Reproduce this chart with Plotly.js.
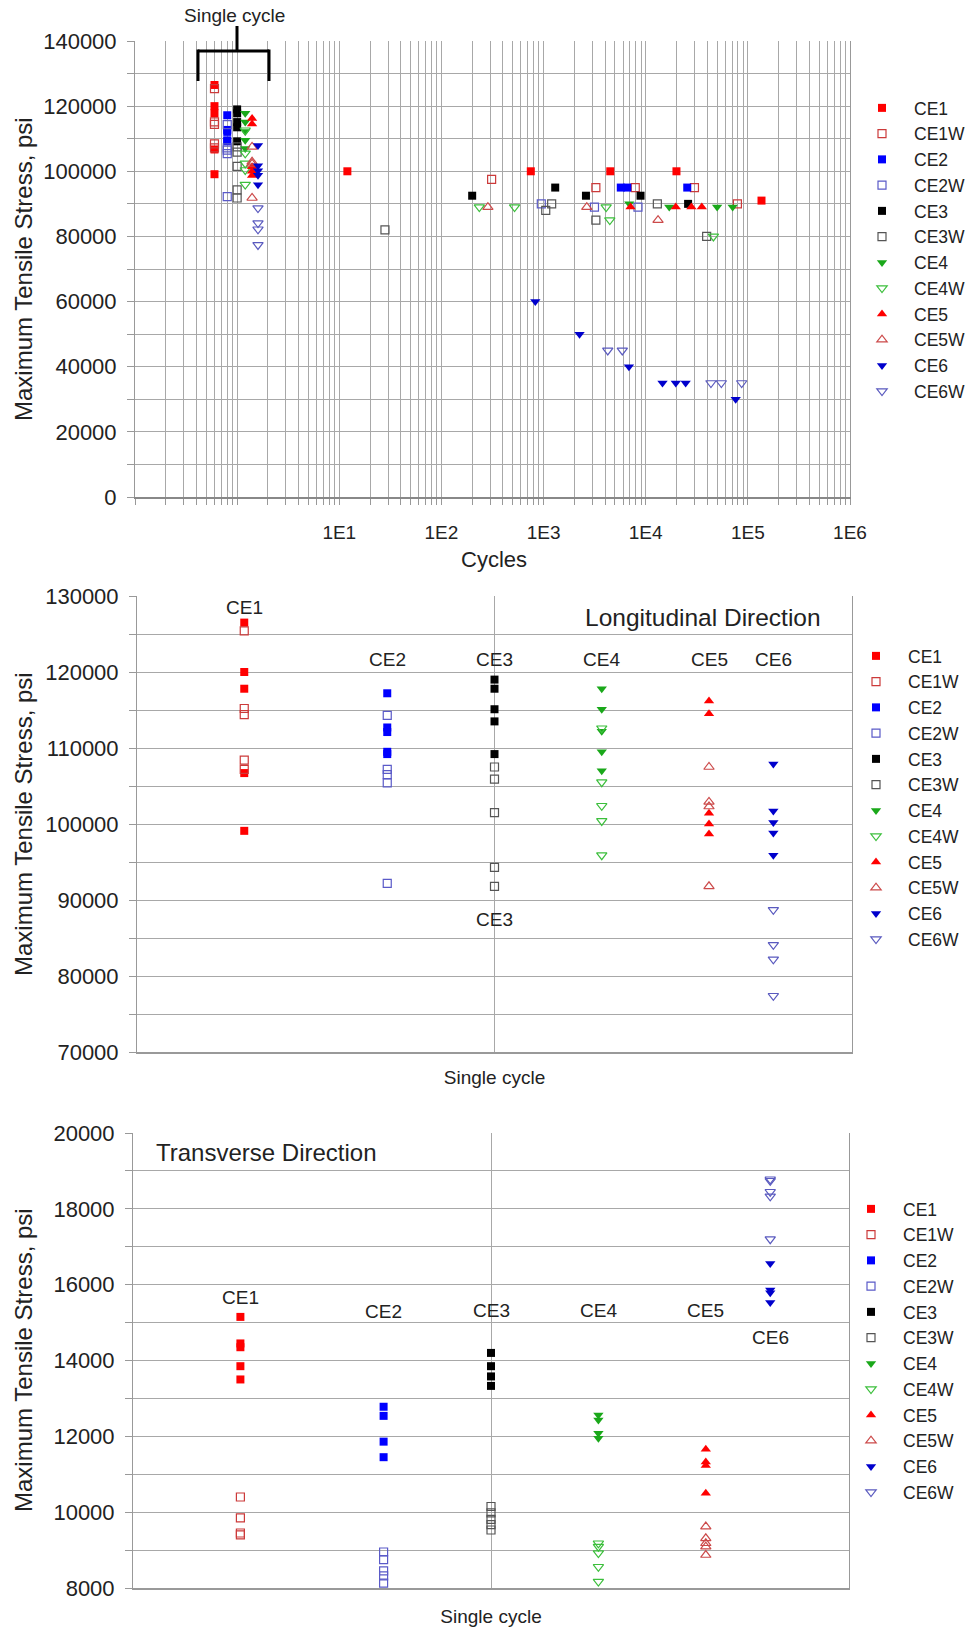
<!DOCTYPE html>
<html>
<head>
<meta charset="utf-8">
<script src="https://cdn.plot.ly/plotly-3.0.1.min.js"></script>
<style>html,body{margin:0;padding:0;background:#fff;}#chart{width:974px;height:1629px;}</style>
</head>
<body>
<div id="chart"></div>
<script>
// ---------------- DATA ----------------
const seriesNames = ['CE1','CE1W','CE2','CE2W','CE3','CE3W','CE4','CE4W','CE5','CE5W','CE6','CE6W'];

// Single-cycle, longitudinal direction (psi)
const longitudinalStress = [
  [126500, 120000, 117800, 106700, 99100],
  [125400, 115200, 114400, 108400, 107200],
  [117200, 112700, 112100, 109500, 109200],
  [114300, 107200, 106500, 105400, 92200],
  [119000, 117800, 115100, 113500, 109200],
  [107500, 105900, 101500, 94300, 91800],
  [117800, 115100, 112200, 109500, 107000],
  [112600, 105500, 102400, 100400, 95900],
  [116200, 114500, 101400, 100000, 98700],
  [107500, 102900, 102300, 91800],
  [107900, 101700, 100200, 98800, 95900],
  [88700, 84100, 82200, 77400]
];

// Single-cycle, transverse direction (psi)
const transverseStress = [
  [15150, 14450, 14350, 13850, 13500],
  [10400, 9850, 9450, 9400],
  [12780, 12540, 11860, 11450],
  [8950, 8750, 8450, 8320, 8130],
  [14200, 13850, 13580, 13330],
  [10150, 9980, 9810, 9670, 9530],
  [12560, 12430, 12080, 11950],
  [9180, 9090, 8920, 8560, 8170],
  [11660, 11320, 11230, 10500],
  [9620, 9310, 9180, 9090, 8870],
  [16560, 15860, 15790, 15530],
  [18780, 18740, 18450, 18330, 17200]
];

// Fatigue tests: cycles to failure and max stress (psi)
const fatigueCycles = [
  [12, 750, 4500, 20000, 136000],
  [310, 3250, 7900, 30000, 79000],
  [5700, 6600, 25500],
  [950, 3150, 8400],
  [200, 1300, 2600, 8900, 26000],
  [28, 1050, 1200, 3250, 13000, 39500],
  [6900, 17000, 50000, 71000],
  [235, 520, 4100, 4450, 46000],
  [7100, 19700, 28000, 35400],
  [285, 2650, 13200],
  [830, 2250, 6850, 14600, 19700, 24600, 76000],
  [4250, 5900, 43500, 55000, 87000]
];
const fatigueStress = [
  [100000, 100000, 100000, 100000, 91000],
  [97500, 95000, 95000, 95000, 90000],
  [95000, 95000, 95000],
  [90000, 89000, 89000],
  [92500, 95000, 92500, 92500, 90000],
  [82000, 88000, 90000, 85000, 90000, 80000],
  [90000, 89000, 89000, 89000],
  [89000, 89000, 89000, 85000, 80000],
  [89000, 89000, 89000, 89000],
  [89000, 89000, 85000],
  [60000, 50000, 40000, 35000, 35000, 35000, 30000],
  [45000, 45000, 35000, 35000, 35000]
];

// Where the single-cycle points are drawn (top chart, in "cycles") and category positions (lower charts)
const singleCycleX = [0.6, 0.6, 0.8, 0.8, 1.0, 1.0, 1.2, 1.2, 1.4, 1.4, 1.6, 1.6];
const groupX = [0.15, 0.15, 0.35, 0.35, 0.5, 0.5, 0.65, 0.65, 0.8, 0.8, 0.89, 0.89];

const groupLabels = ['CE1','CE2','CE3','CE4','CE5','CE6'];
const decadeLabels = ['1E1','1E2','1E3','1E4','1E5','1E6'];

// ---------------- STYLE ----------------
const colors = ['#ff0000','#cc3a3a','#0000ff','#5a5ac8','#000000','#555555','#1aa81a','#3cbf3c','#ff0000','#cc4a4a','#0000cc','#5a5abf'];
const symbols = ['square','square-open','square','square-open','square','square-open',
                 'triangle-down','triangle-down-open','triangle-up','triangle-up-open',
                 'triangle-down','triangle-down-open'];

const FONT = 'Liberation Sans, Arial, sans-serif';
const TXT = '#222222';
const GRID = '#a8a8a8';
const W = 974, H = 1629;
const px = x => x / W;
const py = y => 1 - y / H;

function marker(i) {
  const open = symbols[i].indexOf('open') >= 0;
  const tri = symbols[i].indexOf('triangle') >= 0;
  return {symbol: symbols[i], color: colors[i], size: tri ? 9 : 8,
          line: {color: colors[i], width: open ? 1.2 : 0}};
}

const traces = [];
seriesNames.forEach((name, i) => {
  const n1 = longitudinalStress[i].length;
  traces.push({
    type: 'scatter', mode: 'markers', name: name, legend: 'legend',
    x: Array(n1).fill(singleCycleX[i]).concat(fatigueCycles[i]),
    y: longitudinalStress[i].concat(fatigueStress[i]),
    xaxis: 'x', yaxis: 'y', marker: marker(i)
  });
});
seriesNames.forEach((name, i) => {
  traces.push({
    type: 'scatter', mode: 'markers', name: name, legend: 'legend2',
    x: Array(longitudinalStress[i].length).fill(groupX[i]),
    y: longitudinalStress[i],
    xaxis: 'x2', yaxis: 'y2', marker: marker(i)
  });
});
seriesNames.forEach((name, i) => {
  traces.push({
    type: 'scatter', mode: 'markers', name: name, legend: 'legend3',
    x: Array(transverseStress[i].length).fill(groupX[i]),
    y: transverseStress[i],
    xaxis: 'x3', yaxis: 'y3', marker: marker(i)
  });
});

// tick helpers
function linTicks(lo, hi, step, labelEvery) {
  const v = [], t = [];
  for (let a = lo; a <= hi + 1e-9; a += step) {
    v.push(a);
    t.push(Math.round(a) % labelEvery === 0 ? String(Math.round(a)) : '');
  }
  return {v, t};
}
const logVals = [], logText = [];
for (let k = -1; k <= 5; k++) {
  for (let d = 1; d <= 9; d++) {
    logVals.push(d * Math.pow(10, k));
    logText.push(d === 1 && k >= 1 ? decadeLabels[k - 1] : '');
  }
}
logVals.push(1e6); logText.push(decadeLabels[5]);

const yT1 = linTicks(0, 140000, 10000, 20000);
const yT2 = linTicks(70000, 130000, 5000, 10000);
const yT3 = linTicks(8000, 20000, 1000, 2000);

const tickFont = {family: FONT, size: 22, color: TXT};
function yAxis(range, tk, domain, anchor) {
  return {
    range: range, domain: domain, anchor: anchor,
    tickmode: 'array', tickvals: tk.v, ticktext: tk.t,
    tickfont: tickFont, ticks: 'outside', ticklen: 7, tickcolor: '#999',
    ticklabelstandoff: 6,
    showgrid: true, gridcolor: GRID, gridwidth: 1,
    showline: true, linecolor: '#999', linewidth: 1, mirror: true,
    zeroline: false, fixedrange: true
  };
}

const legendFont = {family: FONT, size: 17.5, color: TXT};
const layout = {
  width: W, height: H,
  margin: {l: 0, r: 0, t: 0, b: 0},
  paper_bgcolor: '#ffffff', plot_bgcolor: '#ffffff',
  font: {family: FONT, color: TXT},
  showlegend: true,
  xaxis: {
    type: 'log', range: [-1, 6], domain: [px(135), px(850)], anchor: 'y',
    tickmode: 'array', tickvals: logVals, ticktext: logText,
    tickfont: {family: FONT, size: 19, color: TXT},
    ticks: 'outside', ticklen: 6, tickcolor: '#999', ticklabelstandoff: 11,
    showgrid: true, gridcolor: GRID, gridwidth: 1,
    showline: true, linecolor: '#888', linewidth: 2, zeroline: false
  },
  yaxis: yAxis([0, 140000], yT1, [py(497), py(41)], 'x'),
  xaxis2: {
    range: [0, 1], domain: [px(137), px(852)], anchor: 'y2',
    tickmode: 'array', tickvals: [0.5], ticktext: ['Single cycle'],
    tickfont: {family: FONT, size: 19, color: TXT}, ticks: '', ticklabelstandoff: 7,
    showgrid: true, gridcolor: GRID, showline: true, linecolor: '#999', linewidth: 2, zeroline: false
  },
  yaxis2: yAxis([70000, 130000], yT2, [py(1052), py(596)], 'x2'),
  xaxis3: {
    range: [0, 1], domain: [px(133), px(849)], anchor: 'y3',
    tickmode: 'array', tickvals: [0.5], ticktext: ['Single cycle'],
    tickfont: {family: FONT, size: 19, color: TXT}, ticks: '', ticklabelstandoff: 10,
    showgrid: true, gridcolor: GRID, showline: true, linecolor: '#999', linewidth: 2, zeroline: false
  },
  yaxis3: yAxis([8000, 20000], yT3, [py(1588), py(1133)], 'x3'),
  legend: {x: px(850), y: py(90), xanchor: 'left', yanchor: 'top', bgcolor: 'rgba(0,0,0,0)',
           font: legendFont, itemwidth: 54},
  legend2: {x: px(844), y: py(638), xanchor: 'left', yanchor: 'top', bgcolor: 'rgba(0,0,0,0)',
            font: legendFont, itemwidth: 54},
  legend3: {x: px(839), y: py(1191), xanchor: 'left', yanchor: 'top', bgcolor: 'rgba(0,0,0,0)',
            font: legendFont, itemwidth: 54},
  shapes: [
    {type: 'line', xref: 'paper', yref: 'paper', x0: px(198), x1: px(269), y0: py(51), y1: py(51), line: {color: '#000', width: 3}},
    {type: 'line', xref: 'paper', yref: 'paper', x0: px(237), x1: px(237), y0: py(26), y1: py(51), line: {color: '#000', width: 3}},
    {type: 'line', xref: 'paper', yref: 'paper', x0: px(198), x1: px(198), y0: py(49.5), y1: py(81), line: {color: '#000', width: 3}},
    {type: 'line', xref: 'paper', yref: 'paper', x0: px(269), x1: px(269), y0: py(49.5), y1: py(81), line: {color: '#000', width: 3}}
  ],
  annotations: []
};

const A = layout.annotations;
function ann(o) {
  A.push(Object.assign({showarrow: false, xanchor: 'center', yanchor: 'middle',
                        font: {family: FONT, size: 19, color: TXT}}, o));
}
// axis titles
[269, 824, 1360].forEach(yc => ann({xref: 'paper', yref: 'paper', x: px(23), y: py(yc), text: 'Maximum Tensile Stress, psi', textangle: -90, font: {family: FONT, size: 24, color: TXT}}));
ann({xref: 'paper', yref: 'paper', x: px(494), y: py(559), text: 'Cycles', font: {family: FONT, size: 22, color: TXT}});
ann({xref: 'paper', yref: 'paper', x: px(234), y: py(16), text: 'Single cycle', font: {family: FONT, size: 19, color: TXT}});
ann({xref: 'paper', yref: 'paper', x: px(703), y: py(617), text: 'Longitudinal Direction', font: {family: FONT, size: 24.5, color: TXT}});
ann({xref: 'paper', yref: 'paper', x: px(266), y: py(1152), text: 'Transverse Direction', font: {family: FONT, size: 24, color: TXT}});
// group labels, middle chart
const midLabelY = [128550, 121600, 121600, 121600, 121600, 121600];
groupLabels.forEach((g, k) => ann({xref: 'x2', yref: 'y2', x: groupX[2 * k], y: midLabelY[k], text: g}));
ann({xref: 'x2', yref: 'y2', x: groupX[4], y: 87400, text: 'CE3'});
// group labels, bottom chart
const botLabelY = [15650, 15300, 15330, 15330, 15330, 14610];
groupLabels.forEach((g, k) => ann({xref: 'x3', yref: 'y3', x: groupX[2 * k], y: botLabelY[k], text: g}));

Plotly.newPlot('chart', traces, layout, {staticPlot: true, displayModeBar: false});
</script>
</body>
</html>
